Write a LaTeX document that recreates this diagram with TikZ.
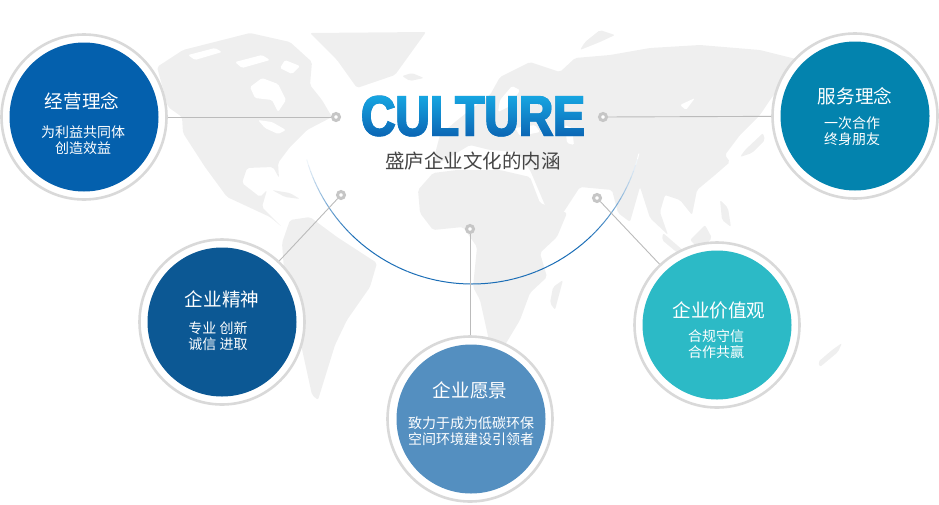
\documentclass[tikz,border=0pt]{standalone}
\usepackage{fontspec}
\usepackage{xcolor}
\usepackage{tikz}
\usetikzlibrary{fadings,calc}
\setmainfont{Noto Sans CJK SC}
\newfontfamily\culturefont[FakeStretch=0.85,FakeBold=3.2]{Liberation Sans Bold}
\definecolor{landgray}{HTML}{EFEFEF}
\definecolor{ringgray}{HTML}{D9D9D9}
\definecolor{linegray}{HTML}{BBBBBB}
\definecolor{dotgray}{HTML}{C6C6C6}
\definecolor{arcblue}{HTML}{1A6DB6}
\definecolor{culturetop}{HTML}{17A8E3}
\definecolor{culturemid}{HTML}{1184CA}
\definecolor{culturebottom}{HTML}{0A60B0}
\definecolor{diskA}{HTML}{0460AD}
\definecolor{diskB}{HTML}{0383AE}
\definecolor{diskC}{HTML}{0C5894}
\definecolor{diskD}{HTML}{2CBAC6}
\definecolor{diskE}{HTML}{548FC0}
\begin{tikzfadingfrompicture}[name=culturetext]
\node[text=transparent!0,inner sep=0pt] (culturefade) {\fontsize{56}{56}\culturefont CULTURE};
\end{tikzfadingfrompicture}

\begin{document}
\begin{tikzpicture}[x=1pt,y=-1pt,
  land/.style={fill=landgray,draw=none,rounded corners=2pt},
  sea/.style={fill=white,draw=none,rounded corners=1.5pt},
  ringnode/.style={circle,draw=ringgray,line width=2.6pt,fill=white,minimum size=165pt,inner sep=0pt},
  disk/.style={circle,minimum size=149pt,inner sep=0pt},
  dotnode/.style={circle,draw=dotgray,line width=3pt,fill=white,minimum size=7pt,inner sep=0pt},
  link/.style={draw=linegray,line width=0.9pt},
  title/.style={text=white,font=\fontsize{18.6}{20}\selectfont},
  sub/.style={text=white,align=center,font=\fontsize{14}{15.5}\selectfont}]
\useasboundingbox (0,0) rectangle (939,504);

% map
\fill[land] (157,67) -- (183,50) -- (250,33) -- (290,42) -- (312,62) -- (310,85) -- (322,100) -- (332,117) -- (307,130) -- (290,147) -- (278,163) -- (279,178) -- (273,167) -- (247,168) -- (242,183) -- (260,197) -- (267,190) -- (262,207) -- (282,227) -- (270,217) -- (227,197) -- (205,167) -- (183,133) -- (182,117) -- (168,107) -- cycle;
\fill[sea] (250,87) -- (262,78) -- (278,84) -- (286,100) -- (278,112) -- (272,100) -- (255,98) -- cycle;
\fill[sea] (188,55) -- (215,48) -- (222,52) -- (195,60) -- cycle;
\fill[sea] (235,62) -- (262,55) -- (270,60) -- (242,68) -- cycle;
\fill[sea] (285,60) -- (300,66) -- (292,74) -- (280,68) -- cycle;
\fill[sea] (258,120) -- (272,122) -- (286,130) -- (278,134) -- (265,128) -- cycle;
\fill[land] (310,33) -- (426,32) -- (395,75) -- (357,88) -- (337,60) -- cycle;
\fill[land] (402,76) -- (412,73) -- (424,78) -- (410,81) -- cycle;
\fill[land] (272,190) -- (290,193) -- (300,199) -- (285,197) -- cycle;
\fill[land] (282,243) -- (290,220) -- (310,217) -- (337,237) -- (377,263) -- (370,287) -- (347,320) -- (335,345) -- (318,400) -- (312,395) -- (300,340) -- (295,300) -- (284,270) -- cycle;
\fill[land] (418,190) -- (433,173) -- (457,170) -- (500,170) -- (530,177) -- (540,203) -- (567,213) -- (557,237) -- (540,253) -- (547,277) -- (530,293) -- (520,320) -- (505,345) -- (490,345) -- (480,300) -- (473,287) -- (477,247) -- (463,227) -- (433,230) -- (420,213) -- cycle;
\fill[land] (563,280) -- (555,310) -- (550,303) -- (553,287) -- cycle;
\fill[land] (432,165) -- (440,135) -- (455,122) -- (470,110) -- (490,95) -- (500,77) -- (530,62) -- (560,72) -- (575,58) -- (610,55) -- (650,48) -- (700,45) -- (760,50) -- (800,60) -- (770,100) -- (760,115) -- (740,135) -- (725,155) -- (730,162) -- (715,175) -- (697,190) -- (692,215) -- (680,200) -- (665,195) -- (660,212) -- (668,235) -- (650,218) -- (640,187) -- (630,222) -- (618,213) -- (612,190) -- (580,187) -- (563,213) -- (550,217) -- (530,170) -- (517,152) -- (490,150) -- (470,145) -- (445,160) -- cycle;
\fill[sea] (500,100) -- (512,86) -- (520,90) -- (510,106) -- (498,112) -- cycle;
\fill[sea] (515,128) -- (535,125) -- (540,132) -- (520,136) -- cycle;
\fill[sea] (565,125) -- (572,128) -- (574,145) -- (567,143) -- cycle;
\fill[sea] (680,105) -- (695,98) -- (686,110) -- cycle;
\fill[land] (600,30) -- (615,35) -- (600,42) -- (580,50) -- (585,42) -- cycle;
\fill[land] (763,133) -- (745,150) -- (740,157) -- (752,153) -- (765,140) -- cycle;
\fill[land] (663,233) -- (685,252) -- (680,255) -- (662,240) -- cycle;
\fill[land] (690,240) -- (705,225) -- (712,238) -- (700,250) -- cycle;
\fill[land] (720,200) -- (728,208) -- (731,227) -- (722,220) -- cycle;
\fill[land] (842,343) -- (838,352) -- (820,367) -- (818,362) -- (832,350) -- cycle;

% arc
\foreach \a [evaluate=\a as \p using {min(100,min(\a-14,164-\a)*3.2)}] in {14,16,...,164}
  \draw[arcblue!\p!white,line width=1pt] ($(472,112)+(\a:172)$) -- ($(472,112)+(\a+2:172)$);

% heading
\node[text=culturemid,inner sep=0pt] (culture) at (473,116) {\fontsize{56}{56}\culturefont CULTURE};
\shade[path fading=culturetext,fit fading=false,fading transform={xshift=473pt,yshift=-116pt},top color=culturetop,bottom color=culturebottom] (345,94) rectangle (600,140);
\node[text=black!73,inner sep=0pt,font=\fontsize{19.5}{22}\selectfont] (heading) at (473,161) {盛庐企业文化的内涵};

% circles
\node[ringnode] (ringA) at (84,117) {};
\node[ringnode] (ringB) at (855,116) {};
\node[ringnode] (ringC) at (222,322) {};
\node[ringnode] (ringD) at (717,325) {};
\node[ringnode] (ringE) at (470,419) {};
\node[disk,fill=diskA] (diskA) at (84,117) {};
\node[disk,fill=diskB] (diskB) at (855,116) {};
\node[disk,fill=diskC] (diskC) at (222,322) {};
\node[disk,fill=diskD] (diskD) at (717,325) {};
\node[disk,fill=diskE] (diskE) at (471,419) {};

% dots
\node[dotnode] (dotA) at (336,117) {};
\node[dotnode] (dotB) at (603,117) {};
\node[dotnode] (dotC) at (341,195) {};
\node[dotnode] (dotD) at (597,198) {};
\node[dotnode] (dotE) at (470,229) {};
\draw[link] (ringA)--(dotA);
\draw[link] (ringB)--(dotB);
\draw[link] (ringC)--(dotC);
\draw[link] (ringD)--(dotD);
\draw[link] (ringE)--(dotE);

% labels
\node[title] (titleA) at (82,101) {经营理念};
\node[sub] (subA) at (83,140) {为利益共同体\\创造效益};
\node[title] (titleB) at (855,96) {服务理念};
\node[sub] (subB) at (852,131) {一次合作\\终身朋友};
\node[title] (titleC) at (222,299) {企业精神};
\node[sub] (subC) at (218,336) {专业 创新\\诚信 进取};
\node[title] (titleD) at (719,310) {企业价值观};
\node[sub] (subD) at (716,344) {合规守信\\合作共赢};
\node[title] (titleE) at (470,390) {企业愿景};
\node[sub] (subE) at (471,431) {致力于成为低碳环保\\空间环境建设引领者};
\end{tikzpicture}
\end{document}
